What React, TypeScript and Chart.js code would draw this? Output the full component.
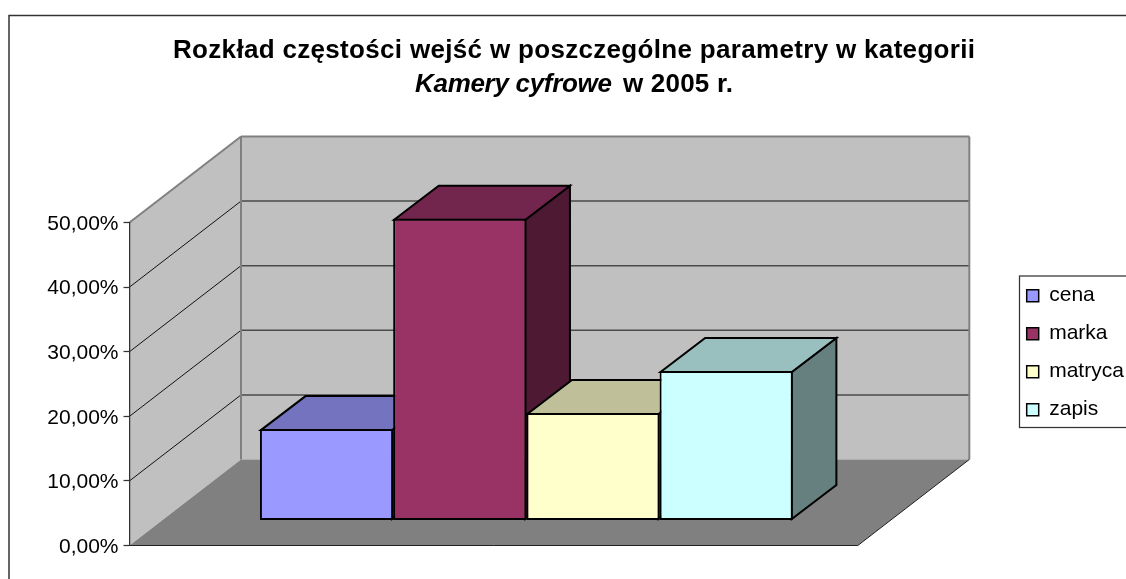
import React, { useEffect, useRef } from "react";
import { Chart, registerables } from "chart.js";

Chart.register(...registerables);

const categories = [""];
const seriesNames = ["cena", "marka", "matryca", "zapis"];
const cena = [14.15];
const marka = [46.7];
const matryca = [16.65];
const zapis = [23.15];
const seriesValues = [cena, marka, matryca, zapis];
const frontColors = ["#9999FF", "#993366", "#FFFFCC", "#CCFFFF"];
const topColors = ["#7373BF", "#73264D", "#BFBF99", "#99BFBF"];
const sideColors = ["#4D4D80", "#4D1933", "#808066", "#668080"];
const titleLine1 = "Rozkład częstości wejść w poszczególne parametry w kategorii";
const titleItalic = "Kamery cyfrowe";
const titleRest = "w 2005 r.";

const FONT = '"Liberation Sans", Arial, sans-serif';
const WALL = { dx: 111.5, dy: -86 };
const BAR_OFFSET = { dx: 32.7, dy: -25 };
const BAR_DEPTH = { dx: 44.6, dy: -34 };

function poly(ctx: CanvasRenderingContext2D, pts: number[][], fill: string | null, stroke: string | null, lw = 1) {
  ctx.beginPath();
  pts.forEach((p, i) => (i ? ctx.lineTo(p[0], p[1]) : ctx.moveTo(p[0], p[1])));
  ctx.closePath();
  if (fill) {
    ctx.fillStyle = fill;
    ctx.fill();
  }
  if (stroke) {
    ctx.strokeStyle = stroke;
    ctx.lineWidth = lw;
    ctx.lineJoin = "miter";
    ctx.stroke();
  }
}

function line(ctx: CanvasRenderingContext2D, x1: number, y1: number, x2: number, y2: number, color: string, lw: number) {
  ctx.beginPath();
  ctx.moveTo(x1, y1);
  ctx.lineTo(x2, y2);
  ctx.strokeStyle = color;
  ctx.lineWidth = lw;
  ctx.stroke();
}

function fitText(ctx: CanvasRenderingContext2D, text: string, x: number, y: number, width: number, font: string) {
  ctx.font = font;
  (ctx as any).letterSpacing = "0px";
  const w = ctx.measureText(text).width;
  (ctx as any).letterSpacing = `${(width - w) / (text.length - 1)}px`;
  ctx.fillText(text, x, y);
  (ctx as any).letterSpacing = "0px";
}

const scene3d = {
  id: "scene3d",
  afterLayout(chart: any) {
    const l = chart.legend;
    l.left = 1009.7;
    l.right = 1126;
    l.top = 268.2;
    l.bottom = 440;
    l.width = l.right - l.left;
    l.height = l.bottom - l.top;
    const y = chart.scales.y;
    if (!y.__shifted) {
      y.__shifted = true;
      const draw = y.drawLabels;
      y.drawLabels = function (area: any) {
        this.ctx.save();
        this.ctx.translate(0, 1.5);
        draw.call(this, area);
        this.ctx.restore();
      };
    }
  },
  beforeDraw(chart: any) {
    const { ctx, chartArea: a, scales } = chart;
    const y = scales.y;
    const { dx, dy } = WALL;
    ctx.save();
    ctx.fillStyle = "#FFFFFF";
    ctx.fillRect(0, 0, chart.width, chart.height);
    ctx.strokeStyle = "#333333";
    ctx.lineWidth = 1.5;
    ctx.strokeRect(9, 15.5, 1130, 600);

    const y0 = y.getPixelForValue(0);
    const yTop = y.getPixelForValue(50);
    poly(ctx, [[a.left + dx, yTop + dy], [a.right + dx, yTop + dy], [a.right + dx, y0 + dy], [a.left + dx, y0 + dy]], "#C0C0C0", null);
    poly(ctx, [[a.left, yTop], [a.left + dx, yTop + dy], [a.left + dx, y0 + dy], [a.left, y0]], "#C0C0C0", null);
    poly(ctx, [[a.left, y0], [a.right, y0], [a.right + dx, y0 + dy], [a.left + dx, y0 + dy]], "#808080", null);
    y.ticks.forEach((t: any) => {
      if (t.value === 0 || t.value === 50) return;
      const p = y.getPixelForValue(t.value);
      line(ctx, a.left, p, a.left + dx, p + dy, "#111111", 1);
      line(ctx, a.left + dx, p + dy, a.right + dx, p + dy, "#4A4A4A", 1.5);
    });
    const edge = "#808080";
    line(ctx, a.left, yTop, a.left + dx, yTop + dy, edge, 2);
    line(ctx, a.left + dx, yTop + dy, a.right + dx, yTop + dy, edge, 2);
    line(ctx, a.right + dx, yTop + dy, a.right + dx, y0 + dy, edge, 2);
    line(ctx, a.left + dx, yTop + dy, a.left + dx, y0 + dy, edge, 2);
    line(ctx, a.left, y0, a.right, y0, "#222222", 1);
    line(ctx, a.right, y0, a.right + dx, y0 + dy, "#222222", 1);
    ctx.restore();
  },
  beforeDatasetsDraw(chart: any) {
    const { ctx } = chart;
    ctx.save();
    ctx.translate(BAR_OFFSET.dx, BAR_OFFSET.dy);
    const { dx, dy } = BAR_DEPTH;
    chart.getSortedVisibleDatasetMetas()
      .slice()
      .sort((m1: any, m2: any) => m1.index - m2.index)
      .forEach((meta: any) => {
        const el = meta.data[0];
        const l = el.x - el.width / 2 + 1;
        const r = el.x + el.width / 2 - 1;
        const t = el.y + 1;
        const b = el.base - 1;
        poly(ctx, [[r, t], [r + dx, t + dy], [r + dx, b + dy], [r, b]], sideColors[meta.index], "#000000", 2);
        poly(ctx, [[l, t], [r, t], [r + dx, t + dy], [l + dx, t + dy]], topColors[meta.index], "#000000", 2);
      });
  },
  afterDatasetsDraw(chart: any) {
    chart.ctx.restore();
  },
  afterDraw(chart: any) {
    const { ctx } = chart;
    ctx.save();
    ctx.fillStyle = "#000000";
    ctx.textAlign = "left";
    ctx.textBaseline = "alphabetic";
    fitText(ctx, titleLine1, 173, 58, 802, `bold 26px ${FONT}`);
    fitText(ctx, titleItalic, 415, 91.5, 197, `italic bold 26px ${FONT}`);
    fitText(ctx, titleRest, 623, 91.5, 110, `bold 26px ${FONT}`);
    ctx.strokeStyle = "#333333";
    ctx.lineWidth = 1.25;
    ctx.strokeRect(1019.5, 276, 130, 151.5);
    ctx.restore();
  },
};

export default function App() {
  const ref = useRef<HTMLCanvasElement>(null);
  useEffect(() => {
    const chart = new Chart(ref.current as HTMLCanvasElement, {
      type: "bar",
      data: {
        labels: categories,
        datasets: seriesNames.map((name, i) => ({
          label: name,
          data: seriesValues[i],
          backgroundColor: frontColors[i],
          borderColor: "#000000",
          borderWidth: 2,
          borderSkipped: false,
          categoryPercentage: 0.7316,
          barPercentage: 1,
          clip: false,
        })),
      },
      options: {
        responsive: false,
        animation: false,
        events: [],
        layout: { padding: { left: 0, top: 222.5, right: 144, bottom: 33.5 } },
        scales: {
          x: { display: false },
          y: {
            min: 0,
            max: 50,
            ticks: {
              stepSize: 10,
              padding: 5,
              color: "#000000",
              font: { family: FONT, size: 21 },
              callback: (v: any) => `${Number(v).toFixed(2).replace(".", ",")}%`,
            },
            grid: { drawOnChartArea: false, drawTicks: true, tickLength: 6, tickColor: "#333333", tickWidth: 1.25 },
            border: { display: true, color: "#333333", width: 1.25 },
            afterFit: (s: any) => {
              s.width = 129.5;
            },
          },
        },
        plugins: {
          title: { display: false },
          tooltip: { enabled: false },
          legend: {
            position: "right",
            align: "start",
            labels: {
              boxWidth: 12,
              boxHeight: 12,
              padding: 17,
              color: "#000000",
              font: { family: FONT, size: 21 },
              generateLabels: () =>
                seriesNames.map((name, i) => ({
                  text: name,
                  fillStyle: frontColors[i],
                  strokeStyle: "#000000",
                  lineWidth: 1.5,
                  datasetIndex: i,
                })),
            },
          },
        },
      },
      plugins: [scene3d],
    } as any);
    return () => chart.destroy();
  }, []);
  return (
    <div style={{ position: "fixed", left: 0, top: 0, width: 1126, height: 579, overflow: "hidden", background: "#fff" }}>
      <canvas ref={ref} width={1126} height={579} style={{ display: "block" }} />
    </div>
  );
}
